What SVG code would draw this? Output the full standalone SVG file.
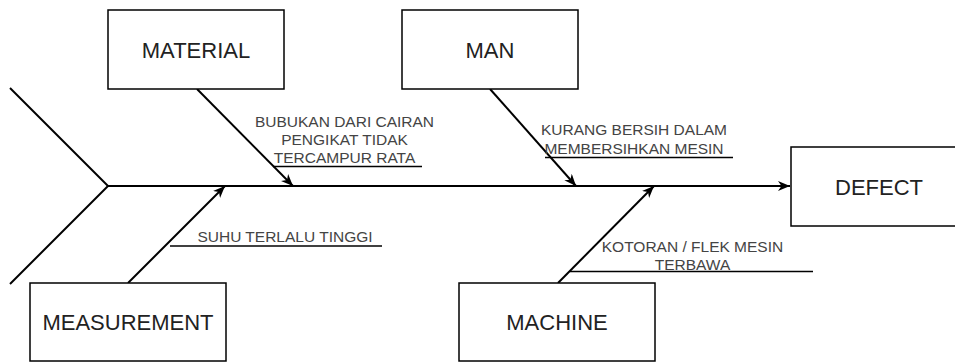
<svg xmlns="http://www.w3.org/2000/svg" width="955" height="362" viewBox="0 0 955 362">
<style>
.box{fill:#fff;stroke:#000;stroke-width:1.5}
.lbl{font-family:"Liberation Sans",Arial,sans-serif;font-size:22px;fill:#222;text-anchor:middle}
.cause{font-family:"Liberation Sans",Arial,sans-serif;font-size:15.5px;fill:#444;text-anchor:middle}
.ln{stroke:#000;stroke-width:2;fill:none}
.ul{stroke:#000;stroke-width:1.5;fill:none}
</style>
<defs>
<marker id="arr" markerUnits="userSpaceOnUse" markerWidth="14" markerHeight="12" refX="12" refY="5" orient="auto">
<path d="M0,0 L12,5 L0,10 L3.5,5 z" fill="#000"/>
</marker>
</defs>
<rect width="955" height="362" fill="#fff"/>
<g id="connectors">
<line class="ln" x1="10" y1="88" x2="108" y2="186"/>
<line class="ln" x1="108" y1="186" x2="10" y2="284"/>
<line class="ln" x1="108" y1="186" x2="790" y2="186" marker-end="url(#arr)"/>
<line class="ln" x1="197" y1="89" x2="293" y2="186" marker-end="url(#arr)"/>
<line class="ln" x1="490" y1="89" x2="576" y2="186" marker-end="url(#arr)"/>
<line class="ln" x1="128" y1="283" x2="225" y2="186" marker-end="url(#arr)"/>
<line class="ln" x1="558" y1="283" x2="654" y2="186" marker-end="url(#arr)"/>
<line class="ul" x1="273" y1="166.5" x2="422" y2="166.5"/>
<line class="ul" x1="545" y1="157.5" x2="733" y2="157.5"/>
<line class="ul" x1="170" y1="246" x2="382" y2="246"/>
<line class="ul" x1="570" y1="271.5" x2="813" y2="271.5"/>
</g>
<g id="material">
<rect class="box" x="108" y="10" width="176" height="79"/>
<text class="lbl" x="196" y="57.5">MATERIAL</text>
</g>
<g id="man">
<rect class="box" x="402" y="10" width="176" height="79"/>
<text class="lbl" x="490" y="57.5">MAN</text>
</g>
<g id="defect">
<rect class="box" x="791" y="147" width="176" height="79"/>
<text class="lbl" x="879" y="194.5">DEFECT</text>
</g>
<g id="measurement">
<rect class="box" x="30" y="283" width="196" height="78"/>
<text class="lbl" x="128" y="330">MEASUREMENT</text>
</g>
<g id="machine">
<rect class="box" x="459" y="283" width="196" height="78"/>
<text class="lbl" x="557" y="330">MACHINE</text>
</g>
<g id="cause-material">
<text class="cause" x="344.5" y="126.5">BUBUKAN DARI CAIRAN</text>
<text class="cause" x="344.5" y="144.5">PENGIKAT TIDAK</text>
<text class="cause" x="344.5" y="162.5">TERCAMPUR RATA</text>
</g>
<g id="cause-man">
<text class="cause" x="634" y="135">KURANG BERSIH DALAM</text>
<text class="cause" x="634" y="153.5">MEMBERSIHKAN MESIN</text>
</g>
<g id="cause-measurement">
<text class="cause" x="285" y="241.5">SUHU TERLALU TINGGI</text>
</g>
<g id="cause-machine">
<text class="cause" x="692.5" y="251.5">KOTORAN / FLEK MESIN</text>
<text class="cause" x="692.5" y="269.5">TERBAWA</text>
</g>
</svg>
